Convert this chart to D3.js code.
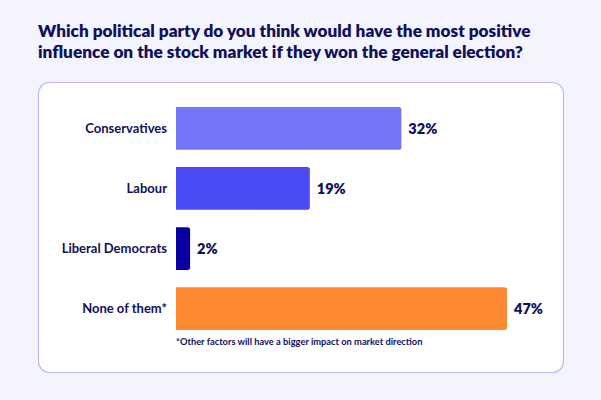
<!DOCTYPE html>
<html>
<head>
<meta charset="utf-8">
<script src="https://cdn.jsdelivr.net/npm/d3@7"></script>
<style>
  html, body { margin: 0; padding: 0; background: #f4f4fe; }
  svg { display: block; font-family: Lato, "Noto Sans", sans-serif; }
</style>
</head>
<body>
<div id="chart"></div>
<script>
const categories = ["Conservatives", "Labour", "Liberal Democrats", "None of them*"];
const values = [32, 19, 2, 47];
const colors = ["#7475f8", "#4a4bf2", "#0a00a2", "#ff8833"];
const titleLines = [
    "Which political party do you think would have the most positive",
    "influence on the stock market if they won the general election?"
];
const footnote = "*Other factors will have a bigger impact on market direction";

const W = 601, H = 400;
const ink = "#10105a";
const margin = { top: 107, left: 176 };

const svg = d3.select("#chart").append("svg")
    .attr("width", W)
    .attr("height", H);

svg.append("rect")
    .attr("width", W).attr("height", H)
    .attr("fill", "#f4f4fe");

// title
svg.append("g").selectAll("text")
    .data(titleLines)
    .join("text")
    .attr("x", 38)
    .attr("y", (d, i) => 37 + i * 21)
    .attr("fill", ink)
    .attr("font-size", 17.2)
    .attr("font-weight", 800)
    .text(d => d);

// card
svg.append("rect")
    .attr("x", 38.5).attr("y", 82.5)
    .attr("width", 525).attr("height", 290)
    .attr("rx", 11)
    .attr("fill", "#ffffff")
    .attr("stroke", "#b9b9fb")
    .attr("stroke-width", 1.2);

const x = d3.scaleLinear().domain([0, 47]).range([0, 331]);
const y = d3.scaleBand().domain(categories).range([0, 223]).paddingInner(0.29).paddingOuter(0);

const g = svg.append("g").attr("transform", `translate(${margin.left},${margin.top})`);

const r = 2.5;
function barPath(w, h) {
    return `M0,0H${w - r}Q${w},0 ${w},${r}V${h - r}Q${w},${h} ${w - r},${h}H0Z`;
}

g.selectAll("path.bar")
    .data(categories)
    .join("path")
    .attr("class", "bar")
    .attr("transform", d => `translate(0,${y(d)})`)
    .attr("d", (d, i) => barPath(x(values[i]), y.bandwidth()))
    .attr("fill", (d, i) => colors[i]);

// category labels
g.selectAll("text.cat")
    .data(categories)
    .join("text")
    .attr("class", "cat")
    .attr("x", -9)
    .attr("y", d => y(d) + y.bandwidth() / 2)
    .attr("dy", "0.35em")
    .attr("text-anchor", "end")
    .attr("fill", ink)
    .attr("font-size", 13)
    .attr("font-weight", 700)
    .text(d => d);

// values
g.selectAll("text.val")
    .data(categories)
    .join("text")
    .attr("class", "val")
    .attr("x", (d, i) => x(values[i]) + 7)
    .attr("y", d => y(d) + y.bandwidth() / 2)
    .attr("dy", "0.36em")
    .attr("fill", ink)
    .attr("font-size", 14.5)
    .attr("font-weight", 800)
    .text((d, i) => values[i] + "%");

// footnote
g.append("text")
    .attr("x", 0)
    .attr("y", y(categories[3]) + y.bandwidth() + 15)
    .attr("fill", ink)
    .attr("font-size", 9.3)
    .attr("font-weight", 700)
    .text(footnote);
</script>
</body>
</html>
